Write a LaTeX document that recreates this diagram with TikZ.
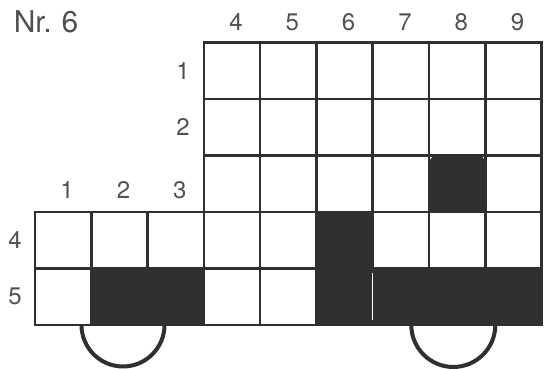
\documentclass[tikz,border=0pt]{standalone}
\usepackage{fontspec}
\setmainfont{TeX Gyre Heros}
\usetikzlibrary{positioning}
\definecolor{ink}{HTML}{303030}
\definecolor{lbl}{HTML}{505050}

\begin{document}
\begin{tikzpicture}[x=56.3pt,y=-56.5pt,line width=2.6pt,line cap=rect,
  lab/.style={text=lbl,inner sep=0pt,font=\fontsize{24}{24}\selectfont}]
\useasboundingbox (-0.6217,-0.752) rectangle (9.041,5.779);
% grid lines
\foreach \c in {3,...,9} \draw[ink] (\c,0)--(\c,5);
\foreach \c in {0,1,2} \draw[ink] (\c,3)--(\c,5);
\foreach \r in {0,1,2} \draw[ink] (3,\r)--(9,\r);
\foreach \r in {3,4,5} \draw[ink] (0,\r)--(9,\r);
% dark cells
\fill[ink] (1,4) rectangle (3,5);\fill[ink] (5,3) rectangle (6,5);\fill[ink] (6,4) rectangle (9,5);
\fill[ink] (7,3) [rounded corners=8pt]--(7,2)--(8,2)[sharp corners]--(8,3)--cycle;
\draw[white,line width=1pt,line cap=butt] (6,4.08)--(6,4.92);
% wheels
\draw[ink,line width=4pt,line cap=butt] (1.563,5) ++(-41.5pt,0) arc[start angle=180,end angle=360,radius=41.5pt];
\draw[ink,line width=4pt,line cap=butt] (7.43,5) ++(-42pt,0) arc[start angle=180,end angle=360,radius=42pt];
% labels
\node[lab,anchor=base west,font=\fontsize{30}{30}\selectfont] (title) at (-0.4,-0.18) {Nr.\kern10pt 6};
\foreach \c in {4,...,9} \node[lab,xshift=4pt] (col\c) at (\c-0.5,-0.363) {\c};
\foreach \c in {1,2,3} \node[lab,xshift=4pt] (col\c) at (\c-0.5,2.61) {\c};
\foreach \r in {1,2} \node[lab] (row\r) at (2.63,\r-0.5) {\r};
\foreach \r in {4,5} \node[lab] (row\r) at (-0.355,\r-0.5) {\r};
\end{tikzpicture}
\end{document}
